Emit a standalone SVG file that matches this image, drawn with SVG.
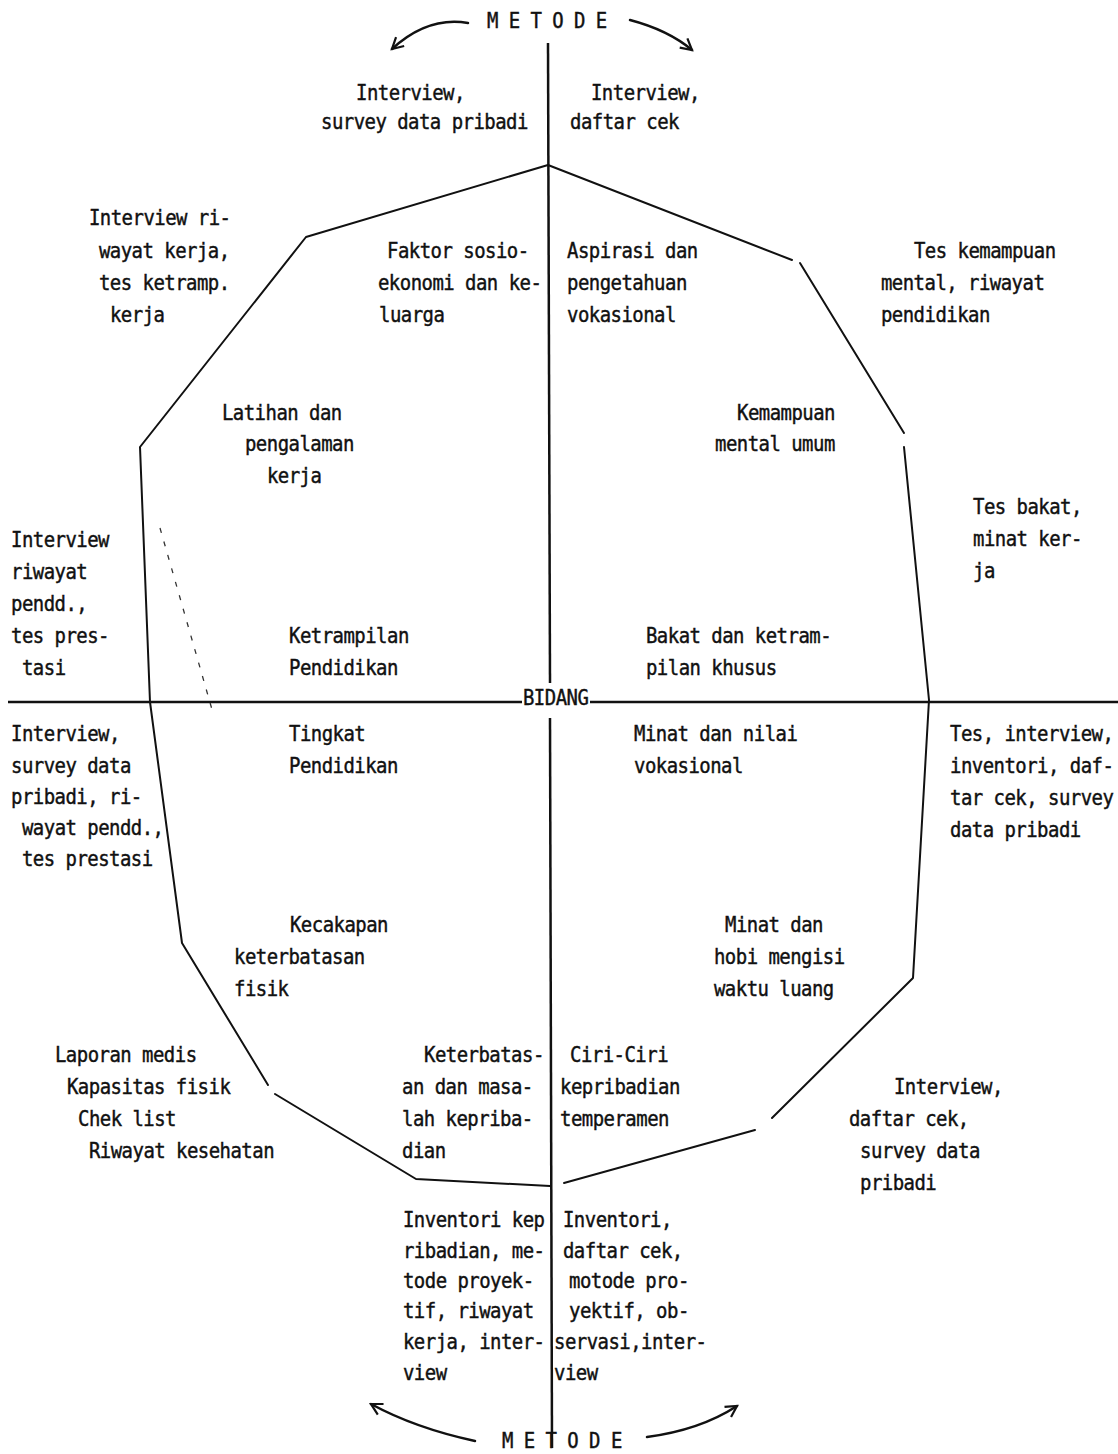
<svg xmlns="http://www.w3.org/2000/svg" width="1118" height="1454" viewBox="0 0 1118 1454">
<style>
.t{font-family:"DejaVu Sans Mono","Liberation Mono",monospace;font-size:22px;letter-spacing:-0.6px;fill:#111;stroke:#111;stroke-width:0.45}
.ln{fill:none;stroke:#111;stroke-width:2;stroke-linecap:round;stroke-linejoin:round}
.ax{fill:none;stroke:#111;stroke-width:2.5}
.ar{fill:none;stroke:#111;stroke-width:2.5;stroke-linecap:round}
</style>
<defs>
<marker id="ah" markerWidth="16" markerHeight="16" refX="13" refY="8" orient="auto" markerUnits="userSpaceOnUse">
<path d="M2,2 L13,8 L2,14" fill="none" stroke="#111" stroke-width="2.2"/>
</marker>
</defs>
<rect width="1118" height="1454" fill="#fff"/>

<g id="connectors">
<line class="ax" x1="548" y1="43" x2="550" y2="683"/>
<line class="ax" x1="550" y1="718" x2="552" y2="1448"/>
<line class="ax" x1="8" y1="702" x2="522" y2="702"/>
<line class="ax" x1="590" y1="702" x2="1118" y2="702"/>
<polyline class="ln" points="548,165 306,237 140,447 150,702 182,943 268,1085"/>
<polyline class="ln" points="275,1094 416,1179 550,1186"/>
<polyline class="ln" points="548,165 792,260"/>
<polyline class="ln" points="800,263 904,433"/>
<polyline class="ln" points="904,447 929,700 913,978 772,1118"/>
<polyline class="ln" points="755,1130 564,1183"/>
<line x1="160" y1="528" x2="213" y2="713" stroke="#333" stroke-width="1.3" stroke-dasharray="5 9"/>
<path class="ar" d="M468,23 Q428,16 392,49" marker-end="url(#ah)"/>
<path class="ar" d="M630,20 Q668,30 692,50" marker-end="url(#ah)"/>
<path class="ar" d="M475,1441 Q415,1428 371,1404" marker-end="url(#ah)"/>
<path class="ar" d="M647,1437 Q700,1430 737,1406" marker-end="url(#ah)"/>
</g>

<g transform="scale(0.862,1)">
<g id="metode-top"><text class="t" x="564.9" y="28">M E T O D E</text></g>
<g id="metode-bottom"><text class="t" x="582.4" y="1448">M E T O D E</text></g>
<g id="bidang"><text class="t" x="606.7" y="705">BIDANG</text></g>

<g id="m-top-left"><text class="t"><tspan x="413" y="100">Interview,</tspan><tspan x="372.4" y="129">survey data pribadi</tspan></text></g>
<g id="m-top-right"><text class="t"><tspan x="685.6" y="100">Interview,</tspan><tspan x="661.3" y="129">daftar cek</tspan></text></g>

<g id="m-riwayat-kerja"><text class="t"><tspan x="103.2" y="225">Interview ri-</tspan><tspan x="114.8" y="258">wayat kerja,</tspan><tspan x="114.8" y="290">tes ketramp.</tspan><tspan x="127.6" y="322">kerja</tspan></text></g>
<g id="f-sosio"><text class="t"><tspan x="449" y="258">Faktor sosio-</tspan><tspan x="438.5" y="290">ekonomi dan ke-</tspan><tspan x="439.7" y="322">luarga</tspan></text></g>
<g id="f-aspirasi"><text class="t"><tspan x="657.8" y="258">Aspirasi dan</tspan><tspan x="657.8" y="290">pengetahuan</tspan><tspan x="657.8" y="322">vokasional</tspan></text></g>
<g id="m-tes-mental"><text class="t"><tspan x="1060.3" y="258">Tes kemampuan</tspan><tspan x="1022" y="290">mental, riwayat</tspan><tspan x="1022" y="322">pendidikan</tspan></text></g>

<g id="f-latihan"><text class="t"><tspan x="257.5" y="420">Latihan dan</tspan><tspan x="284.2" y="451">pengalaman</tspan><tspan x="309.7" y="483">kerja</tspan></text></g>
<g id="f-mental"><text class="t"><tspan x="855" y="420">Kemampuan</tspan><tspan x="829.5" y="451">mental umum</tspan></text></g>
<g id="m-tes-bakat"><text class="t"><tspan x="1128.8" y="514">Tes bakat,</tspan><tspan x="1128.8" y="546">minat ker-</tspan><tspan x="1128.8" y="578">ja</tspan></text></g>

<g id="m-riwayat-pendd"><text class="t"><tspan x="12.8" y="547">Interview</tspan><tspan x="12.8" y="579">riwayat</tspan><tspan x="12.8" y="611">pendd.,</tspan><tspan x="12.8" y="643">tes pres-</tspan><tspan x="25.5" y="675">tasi</tspan></text></g>
<g id="f-ketrampilan"><text class="t"><tspan x="335.3" y="643">Ketrampilan</tspan><tspan x="335.3" y="675">Pendidikan</tspan></text></g>
<g id="f-bakat"><text class="t"><tspan x="749.4" y="643">Bakat dan ketram-</tspan><tspan x="749.4" y="675">pilan khusus</tspan></text></g>

<g id="m-survey-left"><text class="t"><tspan x="12.8" y="741">Interview,</tspan><tspan x="12.8" y="773">survey data</tspan><tspan x="12.8" y="804">pribadi, ri-</tspan><tspan x="25.5" y="835">wayat pendd.,</tspan><tspan x="25.5" y="866">tes prestasi</tspan></text></g>
<g id="f-tingkat"><text class="t"><tspan x="335.3" y="741">Tingkat</tspan><tspan x="335.3" y="773">Pendidikan</tspan></text></g>
<g id="f-minat-nilai"><text class="t"><tspan x="735.5" y="741">Minat dan nilai</tspan><tspan x="735.5" y="773">vokasional</tspan></text></g>
<g id="m-tes-inventori"><text class="t"><tspan x="1102.1" y="741">Tes, interview,</tspan><tspan x="1102.1" y="773">inventori, daf-</tspan><tspan x="1102.1" y="805">tar cek, survey</tspan><tspan x="1102.1" y="837">data pribadi</tspan></text></g>

<g id="f-fisik"><text class="t"><tspan x="336.4" y="932">Kecakapan</tspan><tspan x="271.5" y="964">keterbatasan</tspan><tspan x="271.5" y="996">fisik</tspan></text></g>
<g id="f-hobi"><text class="t"><tspan x="841.1" y="932">Minat dan</tspan><tspan x="828.3" y="964">hobi mengisi</tspan><tspan x="828.3" y="996">waktu luang</tspan></text></g>

<g id="m-medis"><text class="t"><tspan x="63.8" y="1062">Laporan medis</tspan><tspan x="77.7" y="1094">Kapasitas fisik</tspan><tspan x="90.5" y="1126">Chek list</tspan><tspan x="103.2" y="1158">Riwayat kesehatan</tspan></text></g>
<g id="f-keterbatasan"><text class="t"><tspan x="491.9" y="1062">Keterbatas-</tspan><tspan x="466.4" y="1094">an dan masa-</tspan><tspan x="466.4" y="1126">lah kepriba-</tspan><tspan x="466.4" y="1158">dian</tspan></text></g>
<g id="f-ciri"><text class="t"><tspan x="661.3" y="1062">Ciri-Ciri</tspan><tspan x="649.7" y="1094">kepribadian</tspan><tspan x="649.7" y="1126">temperamen</tspan></text></g>
<g id="m-interview-right"><text class="t"><tspan x="1037.1" y="1094">Interview,</tspan><tspan x="984.9" y="1126">daftar cek,</tspan><tspan x="997.7" y="1158">survey data</tspan><tspan x="997.7" y="1190">pribadi</tspan></text></g>

<g id="m-bottom-left"><text class="t"><tspan x="467.5" y="1227">Inventori kep</tspan><tspan x="467.5" y="1258">ribadian, me-</tspan><tspan x="467.5" y="1288">tode proyek-</tspan><tspan x="467.5" y="1318">tif, riwayat</tspan><tspan x="467.5" y="1349">kerja, inter-</tspan><tspan x="467.5" y="1380">view</tspan></text></g>
<g id="m-bottom-right"><text class="t"><tspan x="653.1" y="1227">Inventori,</tspan><tspan x="653.1" y="1258">daftar cek,</tspan><tspan x="660.1" y="1288">motode pro-</tspan><tspan x="660.1" y="1318">yektif, ob-</tspan><tspan x="642.7" y="1349">servasi,inter-</tspan><tspan x="642.7" y="1380">view</tspan></text></g>
</g>
</svg>
